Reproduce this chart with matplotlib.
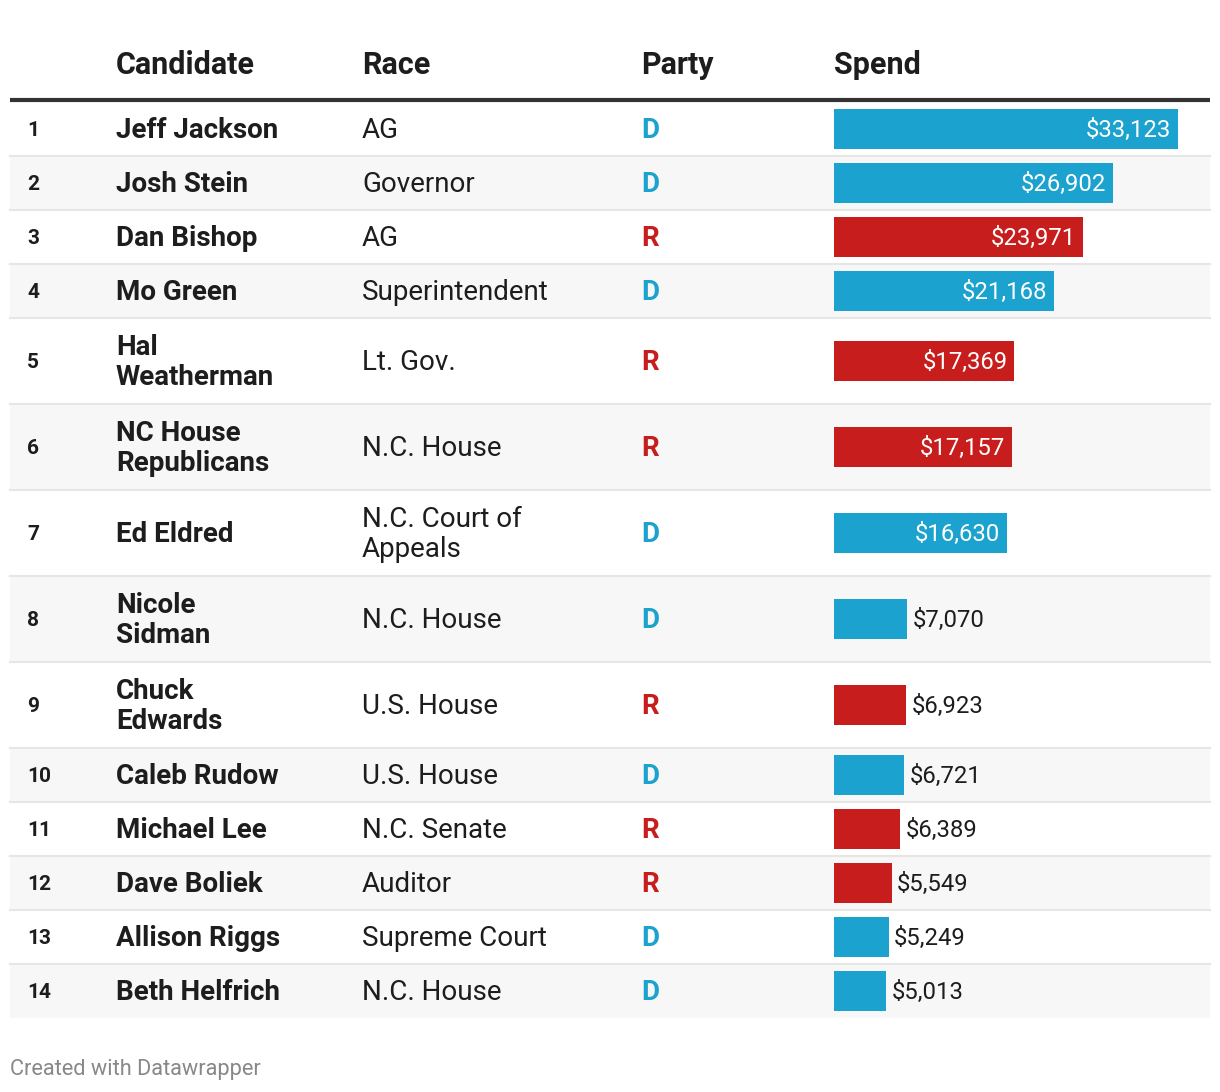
import matplotlib.pyplot as plt

plt.rcParams['font.family'] = ['Roboto', 'DejaVu Sans']

ranks = list(range(1, 15))
candidates = ["Jeff Jackson", "Josh Stein", "Dan Bishop", "Mo Green", "Hal\nWeatherman",
              "NC House\nRepublicans", "Ed Eldred", "Nicole\nSidman", "Chuck\nEdwards",
              "Caleb Rudow", "Michael Lee", "Dave Boliek", "Allison Riggs", "Beth Helfrich"]
races = ["AG", "Governor", "AG", "Superintendent", "Lt. Gov.", "N.C. House",
         "N.C. Court of\nAppeals", "N.C. House", "U.S. House", "U.S. House",
         "N.C. Senate", "Auditor", "Supreme Court", "N.C. House"]
parties = ["D", "D", "R", "D", "R", "R", "D", "D", "R", "D", "R", "R", "D", "D"]
spend = [33123, 26902, 23971, 21168, 17369, 17157, 16630, 7070, 6923, 6721, 6389, 5549, 5249, 5013]
headers = ["Candidate", "Race", "Party", "Spend"]

party_colors = {"D": "#1ba2ce", "R": "#c71e1d"}
W, H = 1220, 1092

fig = plt.figure(figsize=(W / 100, H / 100), dpi=100)
ax = fig.add_axes([0, 0, 1, 1])
ax.set_xlim(0, W)
ax.set_ylim(H, 0)
ax.axis('off')

# bar axes for the Spend column, sharing the pixel y scale
bx = fig.add_axes([834 / W, 0, 376 / W, 1])
bx.set_xlim(0, 36205)
bx.set_ylim(H, 0)
bx.axis('off')

col_x = [116, 362, 641, 834]
for x, h in zip(col_x, headers):
    ax.text(x, 65, h, fontsize=22, fontweight='bold', color='#1d1d1d', va='center', ha='left')
ax.plot([10, 1210], [100, 100], color='#333333', lw=3, solid_capstyle='butt')

# row layout
heights = [86 if ('\n' in c or '\n' in r) else 54 for c, r in zip(candidates, races)]
top = 102
centers = []
for i, h in enumerate(heights):
    if i % 2 == 1:
        ax.add_patch(plt.Rectangle((10, top), 1200, h, color='#f7f7f7', lw=0, zorder=0))
    if i > 0:
        ax.plot([10, 1210], [top, top], color='#e6e6e6', lw=1.5, zorder=1)
    centers.append(top + h / 2)
    top += h

for i in range(len(ranks)):
    y = centers[i] + 1.5
    ax.text(27, y, str(ranks[i]), fontsize=15, fontweight='bold', color='#1d1d1d', va='center')
    ax.text(116, y, candidates[i], fontsize=20, fontweight='bold', color='#1d1d1d',
            va='center', linespacing=1.15)
    ax.text(362, y, races[i], fontsize=20, color='#1d1d1d', va='center', linespacing=1.15)
    ax.text(641, y, parties[i], fontsize=20, fontweight='bold', color=party_colors[parties[i]],
            va='center')

bar_colors = [party_colors[p] for p in parties]
bx.barh(centers, spend, height=40, color=bar_colors, left=0)
for y, v in zip(centers, spend):
    label = "${:,}".format(v)
    if v > 0.35 * max(spend):
        bx.annotate(label, (v, y + 1), xytext=(-5, 0), textcoords='offset points',
                    ha='right', va='center', fontsize=17.2, color='white')
    else:
        bx.annotate(label, (v, y + 1), xytext=(4, 0), textcoords='offset points',
                    ha='left', va='center', fontsize=17.2, color='#1d1d1d')

ax.text(10, 1069, "Created with Datawrapper", fontsize=15.7, color='#888888', va='center')

fig.savefig('out.png', dpi=100)
